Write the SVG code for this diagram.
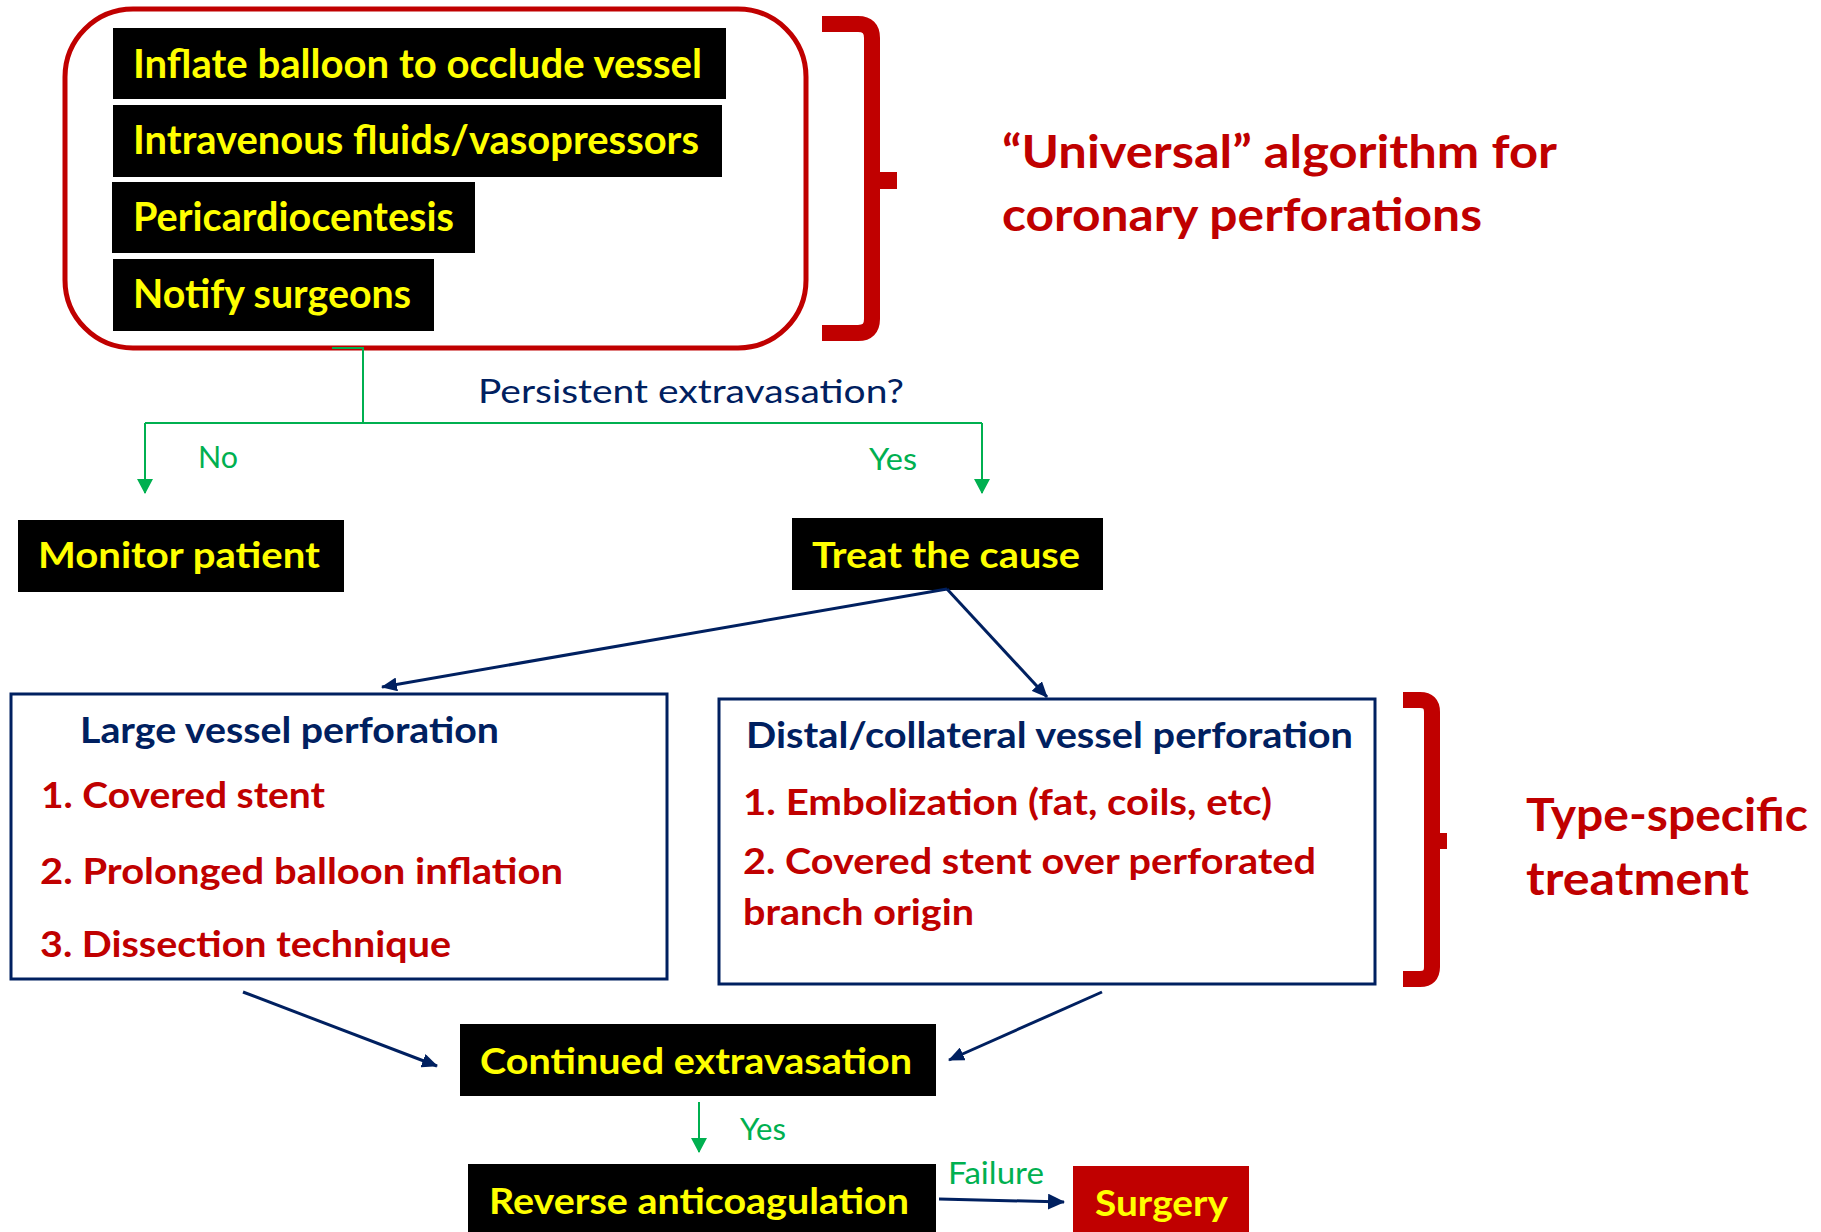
<svg xmlns="http://www.w3.org/2000/svg" width="1821" height="1232" viewBox="0 0 1821 1232">
<defs>
<style>
.t{font-family:Lato,"Liberation Sans",sans-serif;}
.b{font-weight:700;}
.yb{fill:#FFFF00;font-size:40px;font-weight:700;}
.ym{fill:#FFFF00;font-size:37px;font-weight:700;}
.blk{fill:#000000;}
.red{fill:#C00000;}
.navyt{fill:#002060;}
.green{fill:#00B050;font-size:31px;}
.box{fill:#FFFFFF;stroke:#002060;stroke-width:3;}
.list{fill:#C00000;font-size:37px;font-weight:700;}
.head{fill:#C00000;font-size:45px;font-weight:700;}
.gl{fill:none;stroke:#00B050;stroke-width:2;}
.nl{fill:none;stroke:#002060;stroke-width:3;}
.br{fill:none;stroke:#C00000;stroke-width:16;}
</style>
<marker id="ga" viewBox="0 0 15 16" refX="14" refY="8" markerWidth="15" markerHeight="16" markerUnits="userSpaceOnUse" orient="auto">
<path d="M0,0 L15,8 L0,16 z" fill="#00B050"/>
</marker>
<marker id="na" viewBox="0 0 16 14" refX="15" refY="7" markerWidth="16" markerHeight="14" markerUnits="userSpaceOnUse" orient="auto">
<path d="M0,0 L16,7 L0,14 z" fill="#002060"/>
</marker>
<marker id="na2" viewBox="0 0 17 16" refX="16" refY="8" markerWidth="17" markerHeight="16" markerUnits="userSpaceOnUse" orient="auto">
<path d="M0,0 L17,8 L0,16 z" fill="#002060"/>
</marker>
</defs>
<rect x="0" y="0" width="1821" height="1232" fill="#FFFFFF"/>

<g id="universal-group">
<rect x="65" y="9" width="741" height="339" rx="68" ry="68" fill="#FFFFFF" stroke="#C00000" stroke-width="5"/>
</g>

<g id="inflate">
<rect class="blk" x="113" y="28" width="613" height="71"/>
<text class="t yb" x="133" y="78" textLength="569" lengthAdjust="spacingAndGlyphs">Inflate balloon to occlude vessel</text>
</g>
<g id="fluids">
<rect class="blk" x="113" y="105" width="609" height="72"/>
<text class="t yb" x="133" y="154" textLength="566" lengthAdjust="spacingAndGlyphs">Intravenous fluids/vasopressors</text>
</g>
<g id="pericardio">
<rect class="blk" x="112" y="182" width="363" height="71"/>
<text class="t yb" x="133" y="231" textLength="321" lengthAdjust="spacingAndGlyphs">Pericardiocentesis</text>
</g>
<g id="notify">
<rect class="blk" x="113" y="259" width="321" height="72"/>
<text class="t yb" x="133" y="308" textLength="278" lengthAdjust="spacingAndGlyphs">Notify surgeons</text>
</g>

<g id="bracket-universal">
<path class="br" d="M822,24 H858 Q872,24 872,38 V319 Q872,333 858,333 H822"/>
<rect class="red" x="878" y="172" width="19" height="17"/>
<text class="t head" x="1002" y="168" textLength="555" lengthAdjust="spacingAndGlyphs">“Universal” algorithm for</text>
<text class="t head" x="1002" y="231" textLength="480" lengthAdjust="spacingAndGlyphs">coronary perforations</text>
</g>

<g id="monitor">
<rect class="blk" x="18" y="520" width="326" height="72"/>
<text class="t ym" x="38" y="568" textLength="282" lengthAdjust="spacingAndGlyphs">Monitor patient</text>
</g>
<g id="treat">
<rect class="blk" x="792" y="518" width="311" height="72"/>
<text class="t ym" x="812" y="568" textLength="268" lengthAdjust="spacingAndGlyphs">Treat the cause</text>
</g>

<g id="large-vessel">
<rect class="box" x="11" y="694" width="656" height="285"/>
<text class="t b navyt" x="80" y="743" font-size="36" textLength="419" lengthAdjust="spacingAndGlyphs">Large vessel perforation</text>
<text class="t list" x="41" y="808" textLength="284" lengthAdjust="spacingAndGlyphs">1. Covered stent</text>
<text class="t list" x="40" y="884" textLength="523" lengthAdjust="spacingAndGlyphs">2. Prolonged balloon inflation</text>
<text class="t list" x="40" y="957" textLength="411" lengthAdjust="spacingAndGlyphs">3. Dissection technique</text>
</g>

<g id="distal-vessel">
<rect class="box" x="719" y="699" width="656" height="285"/>
<text class="t b navyt" x="746" y="748" font-size="36" textLength="607" lengthAdjust="spacingAndGlyphs">Distal/collateral vessel perforation</text>
<text class="t list" x="743" y="815" textLength="529" lengthAdjust="spacingAndGlyphs">1. Embolization (fat, coils, etc)</text>
<text class="t list" x="743" y="874" textLength="573" lengthAdjust="spacingAndGlyphs">2. Covered stent over perforated</text>
<text class="t list" x="743" y="925" textLength="231" lengthAdjust="spacingAndGlyphs">branch origin</text>
</g>

<g id="bracket-type">
<path class="br" d="M1403,700 H1420 Q1432,700 1432,712 V967 Q1432,979 1420,979 H1403"/>
<rect class="red" x="1438" y="833" width="9" height="16"/>
<text class="t head" x="1526" y="831" textLength="282" lengthAdjust="spacingAndGlyphs">Type-specific</text>
<text class="t head" x="1526" y="895" textLength="223" lengthAdjust="spacingAndGlyphs">treatment</text>
</g>

<g id="continued">
<rect class="blk" x="460" y="1024" width="476" height="72"/>
<text class="t ym" x="480" y="1074" font-size="38" textLength="432" lengthAdjust="spacingAndGlyphs">Continued extravasation</text>
</g>
<g id="reverse">
<rect class="blk" x="468" y="1164" width="468" height="80"/>
<text class="t ym" x="489" y="1214" font-size="38" textLength="420" lengthAdjust="spacingAndGlyphs">Reverse anticoagulation</text>
</g>
<g id="surgery">
<rect class="red" x="1073" y="1166" width="176" height="70"/>
<text class="t ym" x="1095" y="1216" font-size="38" textLength="133" lengthAdjust="spacingAndGlyphs">Surgery</text>
</g>

<g id="connectors">
<path class="gl" d="M332,348 H363 V423"/>
<path class="gl" d="M145,423 H982"/>
<path class="gl" d="M145,423 V493" marker-end="url(#ga)"/>
<path class="gl" d="M982,423 V493" marker-end="url(#ga)"/>
<path class="gl" d="M699,1102 V1152" marker-end="url(#ga)"/>
<path class="nl" d="M947,589 L382,687" marker-end="url(#na)"/>
<path class="nl" d="M947,589 L1047,697" marker-end="url(#na)"/>
<path class="nl" d="M243,992 L437,1066" marker-end="url(#na)"/>
<path class="nl" d="M1102,992 L949,1060" marker-end="url(#na)"/>
<path class="nl" d="M939,1199 L1064,1202" stroke-width="4" marker-end="url(#na2)"/>
</g>

<g id="labels">
<text class="t navyt" x="478" y="403" font-size="33" textLength="426" lengthAdjust="spacingAndGlyphs">Persistent extravasation?</text>
<text class="t green" x="198" y="468" textLength="40" lengthAdjust="spacingAndGlyphs">No</text>
<text class="t green" x="869" y="470" textLength="48" lengthAdjust="spacingAndGlyphs">Yes</text>
<text class="t green" x="740" y="1140" textLength="46" lengthAdjust="spacingAndGlyphs">Yes</text>
<text class="t green" x="948" y="1184" textLength="96" lengthAdjust="spacingAndGlyphs">Failure</text>
</g>
</svg>
